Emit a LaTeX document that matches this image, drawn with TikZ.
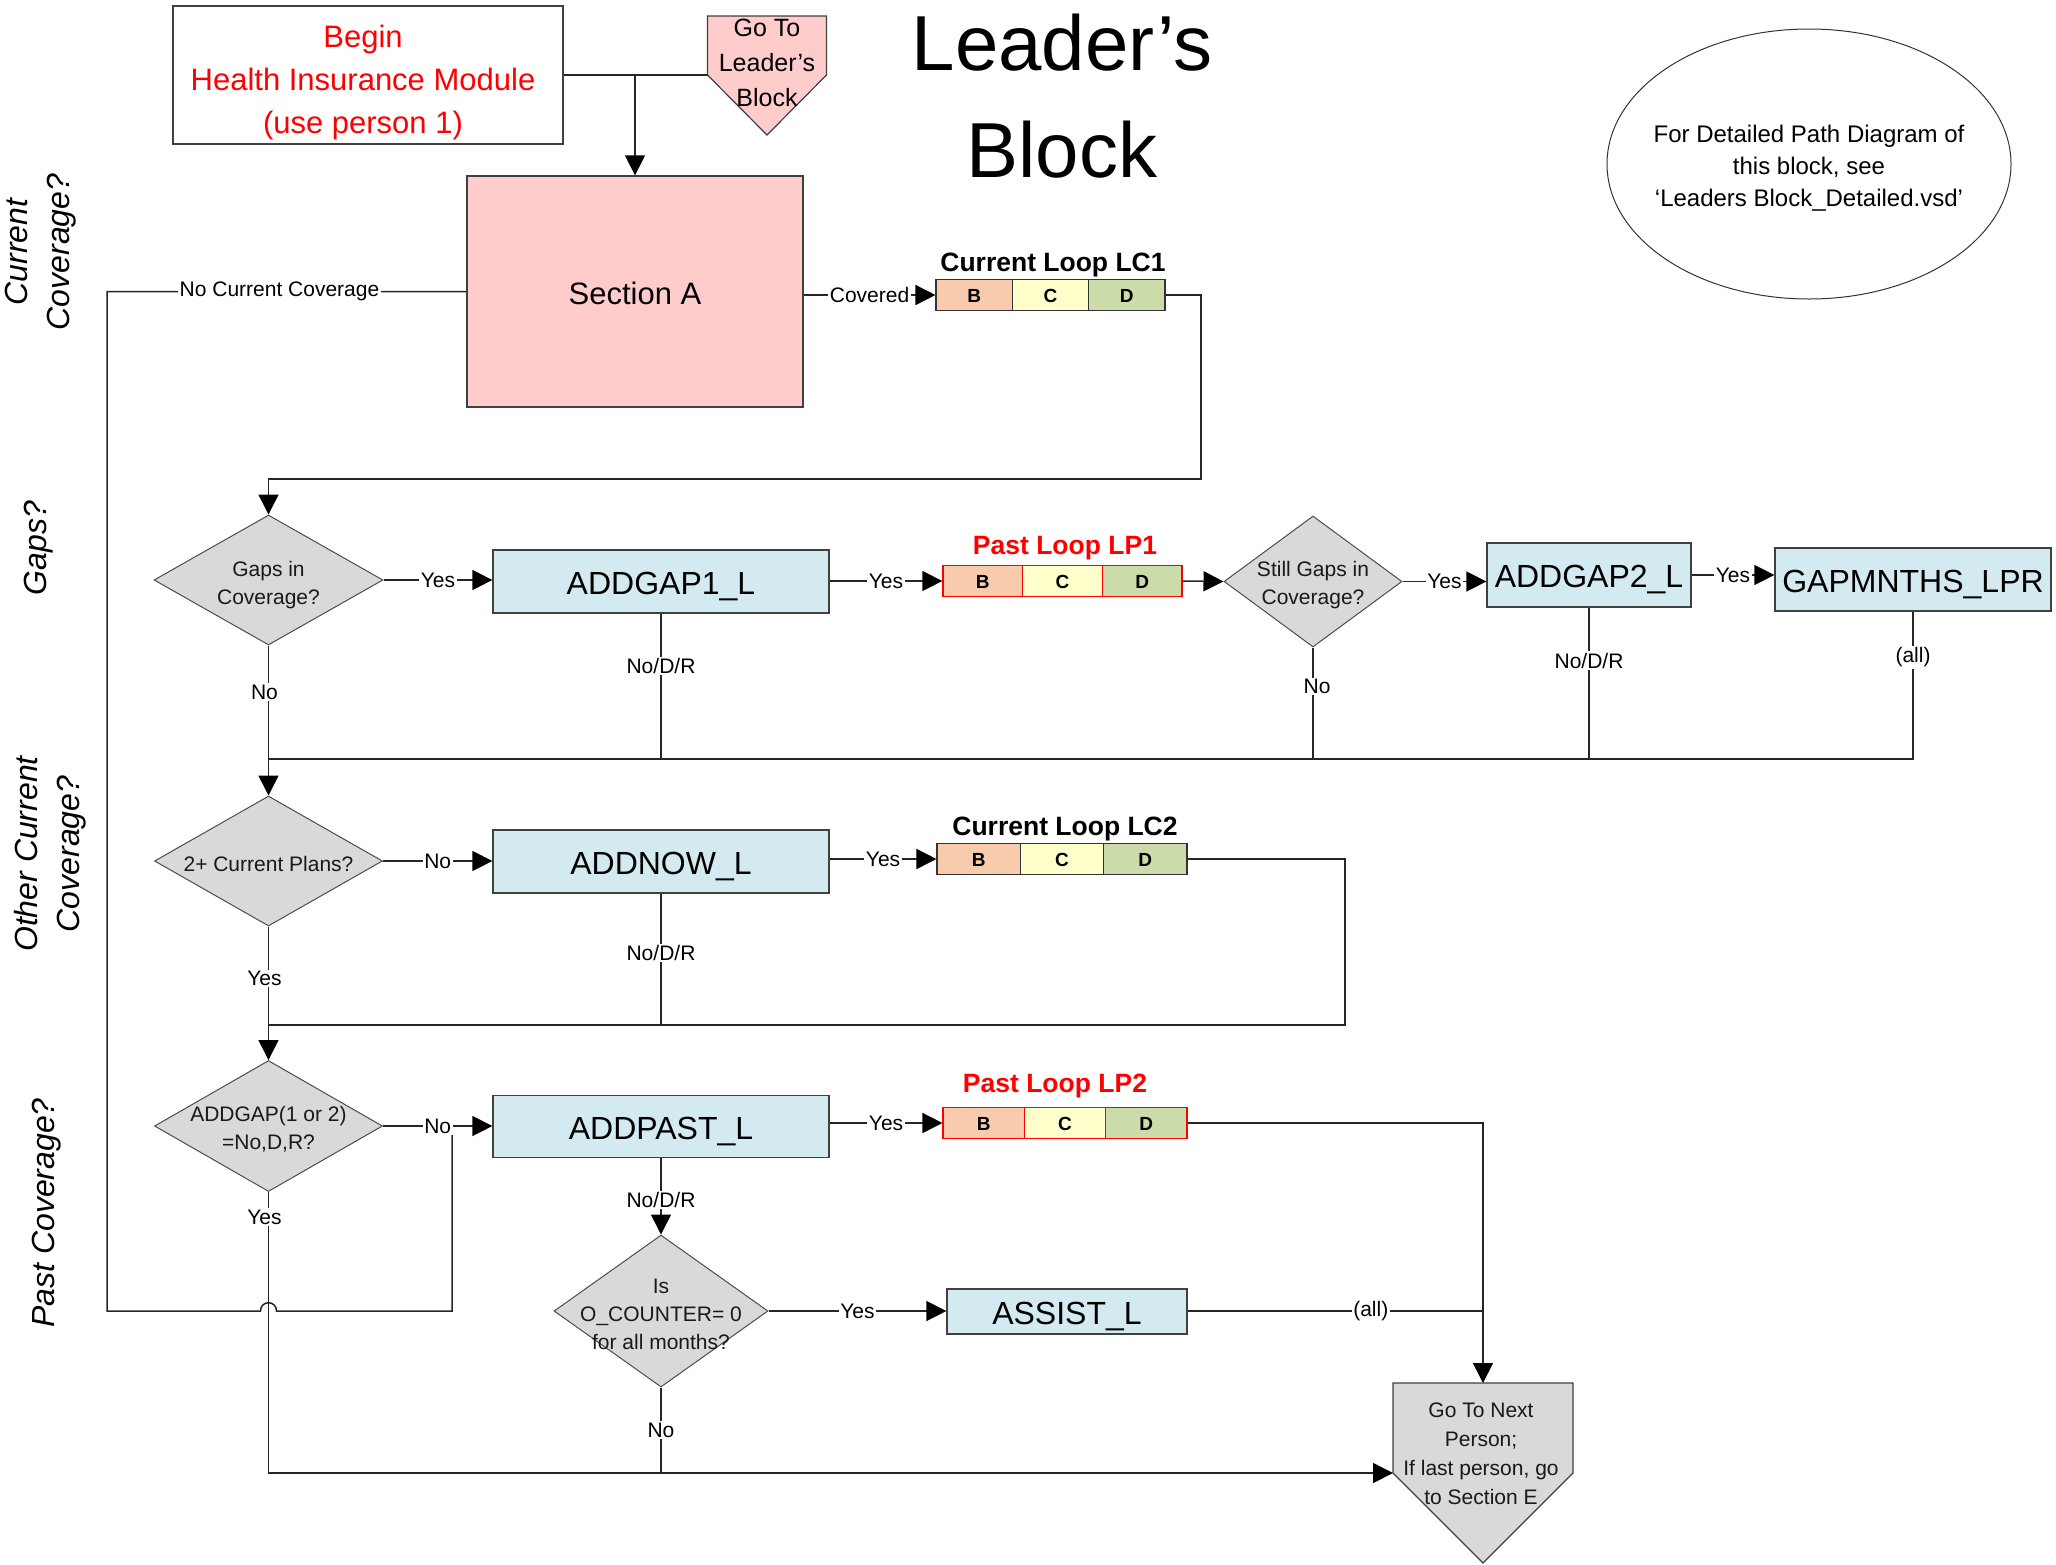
\documentclass[tikz,border=0pt]{standalone}
\usepackage{fontspec}
\setmainfont{Liberation Sans}
\usetikzlibrary{arrows.meta,shapes.geometric,calc}
\newcommand{\myfs}[2]{\fontsize{#1}{#2}\selectfont}
\definecolor{pinkf}{HTML}{FFCCCC}
\definecolor{bluef}{HTML}{D2EAF0}
\definecolor{grayf}{HTML}{D9D9D9}
\definecolor{cB}{HTML}{F8CBAD}
\definecolor{cC}{HTML}{FFFFCC}
\definecolor{cD}{HTML}{CBDBA9}
\definecolor{redt}{HTML}{FF0000}
\tikzset{
  box/.style={draw=black!75, line width=1.3pt, inner sep=0pt, align=center},
  bluebox/.style={box, fill=bluef, font=\myfs{32}{40}, text height=25pt, text depth=-4pt},
  dia/.style={diamond, draw=black!70, line width=1pt, fill=grayf, inner sep=0pt},
  dtext/.style={font=\myfs{21}{28}, align=center, text=black!90, inner sep=0pt},
  cell/.style={draw=black!80, line width=1.2pt, font=\bfseries\myfs{19}{22}, inner sep=0pt, minimum height=31, text height=15pt, text depth=-1pt},
  rcell/.style={cell, draw=red},
  looplbl/.style={font=\bfseries\myfs{26.5}{30}, inner sep=0pt},
  lbl/.style={fill=white, inner sep=1.5pt, font=\myfs{21}{24}},
  conn/.style={draw=black!85, line width=1.5pt},
  arr/.style={conn, -{Triangle[length=20pt,width=20pt,color=black]}},
  side/.style={font=\itshape\myfs{32}{42}, align=center, rotate=90, inner sep=0pt}
}
\begin{document}
\begin{tikzpicture}[x=1pt,y=-1pt]
\useasboundingbox (0,0) rectangle (2056,1564);

% ---- top
\node[box, fill=white, minimum width=390, minimum height=138] (begin) at (368,75) {};
\node[font=\myfs{31}{43}, text=redt, align=center] (begintext) at (363,82) {Begin\\Health Insurance Module\\(use person 1)};

\filldraw[fill=pinkf, draw=black!75, line width=1.2pt] (707.5,16) -- (826.5,16) -- (826.5,75) -- (767,135) -- (707.5,75) -- cycle;
\coordinate (gotoL) at (707.5,75);
\node[font=\myfs{25}{35}, align=center, inner sep=0pt] (gototext) at (767,63) {Go To\\Leader’s\\Block};

\node[font=\myfs{78}{107}, align=center, inner sep=0pt] (title) at (1062,96) {Leader’s\\Block};

\node[ellipse, draw=black!80, line width=1pt, minimum width=404, minimum height=270, inner sep=0pt] (ell) at (1809,164) {};
\node[font=\myfs{24}{32}, align=center, inner sep=0pt] (elltext) at (1809,168) {For Detailed Path Diagram of\\this block, see\\‘Leaders Block\_Detailed.vsd’};

\node[box, fill=pinkf, minimum width=336, minimum height=231, font=\myfs{31}{36}, text height=26pt, text depth=-4pt] (secA) at (635,291.5) {Section A};

% LC1
\node[cell, fill=cB, minimum width=76.3] (lc1b) at (974.2,295) {B};
\node[cell, fill=cC, minimum width=76.3] (lc1c) at (1050.5,295) {C};
\node[cell, fill=cD, minimum width=76.3] (lc1d) at (1126.8,295) {D};
\node[looplbl] (lc1t) at (1053,264.5) {Current Loop LC1};

% ---- Gaps row
\node[dia, minimum width=229, minimum height=130] (gaps) at (268.5,580) {};
\node[dtext] (gapsT) at (268.5,585) {Gaps in\\Coverage?};
\node[bluebox, minimum width=336, minimum height=63] (ag1) at (661,581.5) {ADDGAP1\_L};
\node[rcell, fill=cB, minimum width=79.7] (lp1b) at (982.8,581) {B};
\node[rcell, fill=cC, minimum width=79.7] (lp1c) at (1062.5,581) {C};
\node[rcell, fill=cD, minimum width=79.7] (lp1d) at (1142.2,581) {D};
\node[looplbl, text=redt] (lp1t) at (1065,548.5) {Past Loop LP1};
\node[dia, minimum width=178, minimum height=131] (sg) at (1313,581.5) {};
\node[dtext] (sgT) at (1313,585.5) {Still Gaps in\\Coverage?};
\node[bluebox, minimum width=204, minimum height=64] (ag2) at (1589,575) {ADDGAP2\_L};
\node[bluebox, minimum width=276, minimum height=63] (gm) at (1913,579.5) {GAPMNTHS\_LPR};

% ---- Other current row
\node[dia, minimum width=228, minimum height=130] (cp) at (268.5,861) {};
\node[dtext] (cpT) at (268.5,864) {2+ Current Plans?};
\node[bluebox, minimum width=336, minimum height=63] (an) at (661,861.5) {ADDNOW\_L};
\node[cell, fill=cB, minimum width=83.3] (lc2b) at (978.7,859) {B};
\node[cell, fill=cC, minimum width=83.3] (lc2c) at (1062,859) {C};
\node[cell, fill=cD, minimum width=83.3] (lc2d) at (1145.3,859) {D};
\node[looplbl] (lc2t) at (1065,828.5) {Current Loop LC2};

% ---- Past row
\node[dia, minimum width=228, minimum height=131] (ag) at (268.5,1126) {};
\node[dtext] (agT) at (268.5,1129) {ADDGAP(1 or 2)\\=No,D,R?};
\node[bluebox, minimum width=336, minimum height=62] (ap) at (661,1126.5) {ADDPAST\_L};
\node[rcell, fill=cB, minimum width=81.3] (lp2b) at (983.7,1123) {B};
\node[rcell, fill=cC, minimum width=81.3] (lp2c) at (1065,1123) {C};
\node[rcell, fill=cD, minimum width=81.3] (lp2d) at (1146.3,1123) {D};
\node[looplbl, text=redt] (lp2t) at (1055,1085.5) {Past Loop LP2};

\node[dia, minimum width=214, minimum height=152] (oc) at (661,1311) {};
\node[dtext] (ocT) at (661,1314) {Is\\O\_COUNTER= 0\\for all months?};
\node[bluebox, minimum width=240, minimum height=45] (as) at (1067,1311.5) {ASSIST\_L};

\filldraw[fill=grayf, draw=black!75, line width=1.2pt] (1393,1383) -- (1573,1383) -- (1573,1473) -- (1483,1563) -- (1393,1473) -- cycle;
\coordinate (gnT) at (1483,1383);
\coordinate (gnL) at (1393,1473);
\node[dtext, font=\myfs{21}{29}] (gntext) at (1481,1454) {Go To Next\\Person;\\If last person, go\\to Section E};

% ---- side labels
\node[side] (s1) at (41,252) {Current\\Coverage?};
\node[side] (s2) at (39,548) {Gaps?};
\node[side] (s3) at (50,854) {Other Current\\Coverage?};
\node[side] (s4) at (47,1213) {Past Coverage?};

% ---- connectors
\draw[conn] (begin.east) -- (gotoL);
\draw[arr] (secA.north |- begin.east) -- (secA.north);
\draw[arr] (secA.east |- lc1b.west) -- node[lbl]{Covered} (lc1b.west);
\draw[arr] (lc1d.east) -| (1201,479) -| (gaps.north);

\draw[conn] (secA.west) -- node[lbl,pos=0.52]{No Current Coverage} (107,291.5) -- (107,1311) -- (260.5,1311)
  .. controls (260.5,1300) and (276.5,1300) .. (276.5,1311) -- (452,1311) -- (452,1126);

\draw[arr] (gaps.east) -- node[lbl]{Yes} (ag1.west |- gaps.east);
\draw[arr] (ag1.east |- lp1b.west) -- node[lbl]{Yes} (lp1b.west);
\draw[arr] (lp1d.east) -- (sg.west);
\draw[arr] (sg.east) -- node[lbl]{Yes} (ag2.west |- sg.east);
\draw[arr] (ag2.east) -- node[lbl]{Yes} (gm.west |- ag2.east);

\draw[arr] (gaps.south) -- node[lbl,pos=0.31,xshift=-4pt]{No} (cp.north);
\draw[conn] (ag1.south) -- node[lbl,pos=0.36]{No/D/R} (ag1.south |- 0,759);
\draw[conn] (sg.south) -- node[lbl,pos=0.35,xshift=4pt]{No} (sg.south |- 0,759);
\draw[conn] (ag2.south) -- node[lbl,pos=0.35]{No/D/R} (ag2.south |- 0,759);
\draw[conn] (gm.south) -- node[lbl,pos=0.31]{(all)} (gm.south |- 0,759) -- (gaps.south |- 0,759);

\draw[arr] (cp.east) -- node[lbl]{No} (an.west |- cp.east);
\draw[arr] (an.east |- lc2b.west) -- node[lbl]{Yes} (lc2b.west);
\draw[conn] (lc2d.east) -| (1345,1025) -- (cp.south |- 0,1025);
\draw[conn] (an.south) -- node[lbl,pos=0.45]{No/D/R} (an.south |- 0,1025);
\draw[arr] (cp.south) -- node[lbl,pos=0.39,xshift=-4pt]{Yes} (ag.north);

\draw[arr] (ag.east) -- node[lbl]{No} (ap.west |- ag.east);
\draw[arr] (ap.east |- lp2b.west) -- node[lbl]{Yes} (lp2b.west);
\draw[arr] (lp2d.east) -| (gnT);
\draw[arr] (ap.south) -- node[lbl,pos=0.55]{No/D/R} (oc.north);
\draw[arr] (oc.east) -- node[lbl]{Yes} (as.west |- oc.east);
\draw[conn] (as.east |- oc.east) -- node[lbl,pos=0.62]{(all)} (gnT |- oc.east);
\draw[conn] (oc.south) -- node[lbl]{No} (oc.south |- gnL);
\draw[arr] (ag.south) -- node[lbl,pos=0.09,xshift=-4pt]{Yes} (ag.south |- gnL) -- (gnL);
\end{tikzpicture}
\end{document}
